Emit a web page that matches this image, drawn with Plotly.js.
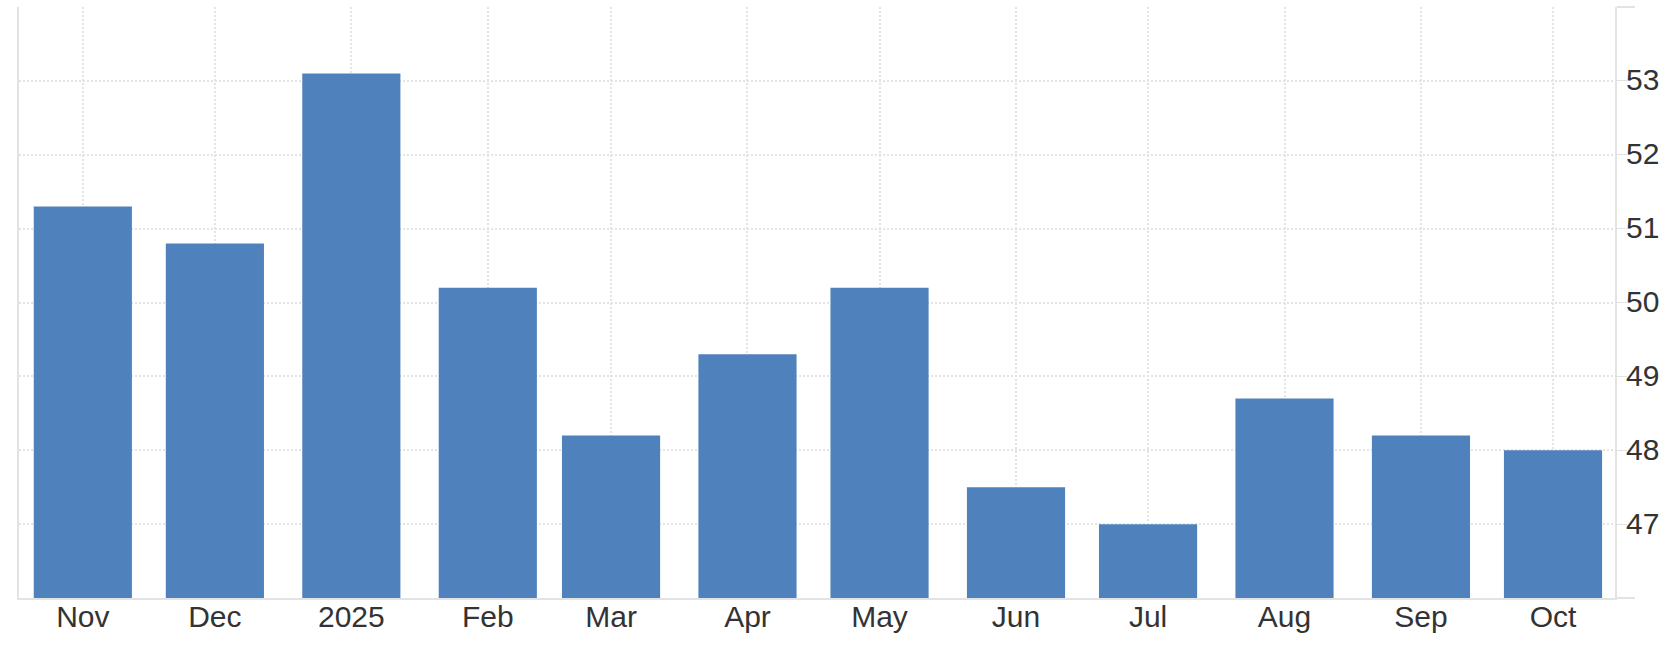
<!DOCTYPE html>
<html>
<head>
<meta charset="utf-8">
<script src="https://cdn.plot.ly/plotly-3.0.1.min.js"></script>
<style>
  html, body { margin: 0; padding: 0; background: #ffffff; }
  #chart { width: 1678px; height: 656px; }
</style>
</head>
<body>
<div id="chart"></div>
<script>
// Data
const months = ['2024-11-01', '2024-12-01', '2025-01-01', '2025-02-01', '2025-03-01', '2025-04-01',
                '2025-05-01', '2025-06-01', '2025-07-01', '2025-08-01', '2025-09-01', '2025-10-01'];
const tickLabels = ['Nov', 'Dec', '2025', 'Feb', 'Mar', 'Apr', 'May', 'Jun', 'Jul', 'Aug', 'Sep', 'Oct'];
const values = [51.3, 50.8, 53.1, 50.2, 48.2, 49.3, 50.2, 47.5, 47.0, 48.7, 48.2, 48.0];
const yTicks = [47, 48, 49, 50, 51, 52, 53];
const yEdgeTicks = [46, 54];

const DAY = 86400000;
const gridColor = '#e3e3e3';
const axisColor = '#e3e3e3';

const trace = {
  type: 'bar',
  x: months,
  y: values,
  width: values.map(() => 22.3 * DAY),
  marker: { color: '#4f81bd', line: { width: 0 } },
  hoverinfo: 'x+y'
};

const layout = {
  width: 1678,
  height: 656,
  margin: { l: 19, r: 63, t: 7, b: 58, pad: 0 },
  paper_bgcolor: '#ffffff',
  plot_bgcolor: '#ffffff',
  showlegend: false,
  font: { family: 'Liberation Sans, Arial, Helvetica, sans-serif', size: 30, color: '#333333' },
  xaxis: {
    type: 'date',
    range: ['2024-10-17 12:00', '2025-10-15 02:00'],
    tickmode: 'array',
    tickvals: months,
    ticktext: tickLabels,
    showgrid: true,
    gridcolor: gridColor,
    gridwidth: 2,
    griddash: '2px,2px',
    showline: true,
    linecolor: axisColor,
    linewidth: 2,
    ticks: '',
    ticklabelstandoff: -9,
    tickfont: { size: 30, color: '#333333' },
    zeroline: false,
    fixedrange: true
  },
  yaxis: {
    side: 'right',
    range: [46, 54],
    tickmode: 'array',
    tickvals: yTicks,
    ticktext: yTicks.map(String),
    showgrid: true,
    gridcolor: gridColor,
    gridwidth: 2,
    griddash: '2px,2px',
    showline: true,
    mirror: true,
    linecolor: axisColor,
    linewidth: 2,
    ticks: 'outside',
    ticklen: 10,
    tickwidth: 1,
    tickcolor: axisColor,
    ticklabelshift: -1,
    ticklabelstandoff: -7,
    tickfont: { size: 30, color: '#333333' },
    minor: {
      tickmode: 'array',
      tickvals: yEdgeTicks,
      ticks: 'outside',
      ticklen: 18,
      tickwidth: 2,
      tickcolor: axisColor,
      showgrid: true,
      gridcolor: gridColor,
      gridwidth: 2,
      griddash: '2px,2px'
    },
    zeroline: false,
    fixedrange: true
  }
};

Plotly.newPlot('chart', [trace], layout, { displayModeBar: false, staticPlot: true });
</script>
</body>
</html>
